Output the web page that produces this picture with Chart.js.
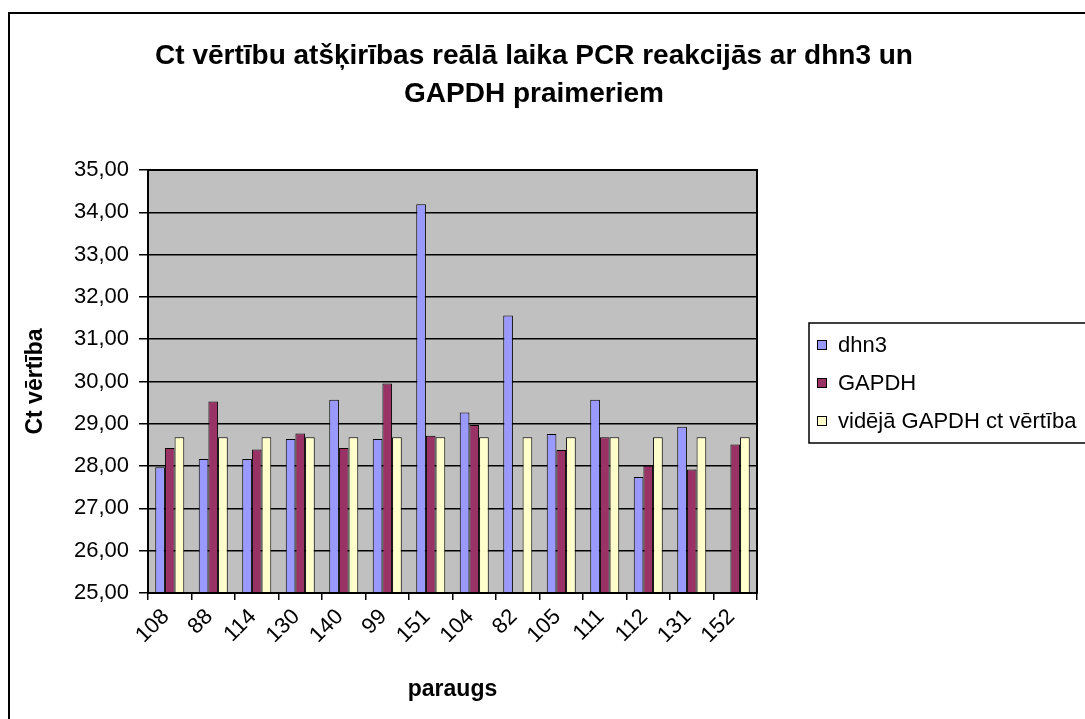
<!DOCTYPE html>
<html>
<head>
<meta charset="utf-8">
<style>
  html, body { margin: 0; padding: 0; background: #fff; overflow: hidden; }
  #wrap { position: relative; width: 1085px; height: 719px; }
</style>
<script src="https://cdn.jsdelivr.net/npm/chart.js@4/dist/chart.umd.min.js"></script>
</head>
<body>
<div id="wrap"><canvas id="c" width="1085" height="719"></canvas></div>
<script>
// paraugi (samples)
var samples = ["108", "88", "114", "130", "140", "99", "151", "104", "82", "105", "111", "112", "131", "152"];
// Ct values
var dhn3 = [27.97, 28.17, 28.17, 28.64, 29.57, 28.64, 34.19, 29.27, 31.56, 28.76, 29.57, 27.74, 28.93, null];
var gapdh = [28.43, 29.53, 28.39, 28.77, 28.43, 29.95, 28.72, 28.97, null, 28.38, 28.68, 28.01, 27.92, 28.51];
var gapdhMean = [28.68, 28.68, 28.68, 28.68, 28.68, 28.68, 28.68, 28.68, 28.68, 28.68, 28.68, 28.68, 28.68, 28.68];
var seriesNames = ["dhn3", "GAPDH", "vidējā GAPDH ct vērtība"];
var titleLines = ["Ct vērtību atšķirības reālā laika PCR reakcijās ar dhn3 un", "GAPDH praimeriem"];
var yMin = 25, yMax = 35, yStep = 1;

var FONT = "'Liberation Sans', Arial, sans-serif";

// grey plot area + frame round it
var plotBg = {
	id: "plotBg",
	beforeDraw: function (chart) {
		var a = chart.chartArea, ctx = chart.ctx;
		ctx.save();
		ctx.fillStyle = "#C0C0C0";
		ctx.fillRect(a.left, a.top, a.right - a.left, a.bottom - a.top);
		ctx.restore();
	},
	afterDatasetsDraw: function (chart) {
		var a = chart.chartArea, ctx = chart.ctx;
		ctx.save();
		ctx.strokeStyle = "#000";
		ctx.lineWidth = 2;
		ctx.strokeRect(a.left, a.top, a.right - a.left, a.bottom - a.top);
		ctx.restore();
	}
};

// outer frame, title centred on the whole chart, boxed legend (Excel style)
var frameLegend = {
	id: "frameLegend",
	afterDraw: function (chart) {
		var ctx = chart.ctx;
		ctx.save();
		ctx.strokeStyle = "#000";
		ctx.lineWidth = 2;
		ctx.strokeRect(9, 13, 1200, 800);

		ctx.fillStyle = "#000";
		ctx.font = "bold 28px " + FONT;
		ctx.textAlign = "center";
		ctx.textBaseline = "middle";
		ctx.fillText(titleLines[0], 534, 56);
		ctx.fillText(titleLines[1], 534, 94);

		var lx = 809, ly = 323, rowH = 38;
		ctx.lineWidth = 1.5;
		ctx.strokeRect(lx, ly, 400, 3 * rowH + 6);
		ctx.font = "22px " + FONT;
		ctx.textAlign = "left";
		chart.data.datasets.forEach(function (ds, i) {
			var cy = ly + 22 + i * rowH;
			ctx.fillStyle = ds.backgroundColor;
			ctx.fillRect(817, cy - 5, 10, 10);
			ctx.lineWidth = 1;
			ctx.strokeStyle = "#000";
			ctx.strokeRect(817.5, cy - 4.5, 9, 9);
			ctx.fillStyle = "#000";
			ctx.fillText(ds.label, 838, cy + 1);
		});
		ctx.restore();
	}
};

new Chart(document.getElementById("c"), {
	type: "bar",
	data: {
		labels: samples,
		datasets: [
			{ label: seriesNames[0], data: dhn3, backgroundColor: "#9999FF" },
			{ label: seriesNames[1], data: gapdh, backgroundColor: "#993366" },
			{ label: seriesNames[2], data: gapdhMean, backgroundColor: "#FFFFCC" }
		]
	},
	options: {
		responsive: false,
		devicePixelRatio: 1,
		animation: false,
		layout: { padding: { left: 12, top: 170, right: 328, bottom: 0 } },
		datasets: {
			bar: {
				categoryPercentage: 0.667,
				barPercentage: 1,
				borderColor: "#000",
				borderWidth: 1
			}
		},
		plugins: {
			legend: { display: false },
			tooltip: { enabled: false },
			title: { display: false }
		},
		scales: {
			x: {
				grid: { offset: true, drawOnChartArea: false, color: "#000", tickLength: 7, lineWidth: 1.5 },
				border: { color: "#000", width: 2 },
				ticks: { color: "#000", minRotation: 45, maxRotation: 45, autoSkip: false, padding: 4, labelOffset: -4, font: { family: FONT, size: 22 } },
				title: { display: true, text: "paraugs", color: "#000", font: { family: FONT, size: 23, weight: "bold" }, padding: { top: 0, bottom: 16 } },
				afterFit: function (s) { s.height = 126; }
			},
			y: {
				min: yMin,
				max: yMax,
				grid: { color: "#000", lineWidth: 1.5, tickLength: 9 },
				border: { color: "#000", width: 2 },
				ticks: {
					stepSize: yStep,
					color: "#000",
					padding: 10,
					font: { family: FONT, size: 22 },
					callback: function (v) { return v.toFixed(2).replace(".", ","); }
				},
				title: { display: true, text: "Ct vērtība", color: "#000", font: { family: FONT, size: 23, weight: "bold" }, padding: { top: 10, bottom: 0 } },
				afterFit: function (s) { s.width = 136; }
			}
		}
	},
	plugins: [plotBg, frameLegend]
});
</script>
</body>
</html>
